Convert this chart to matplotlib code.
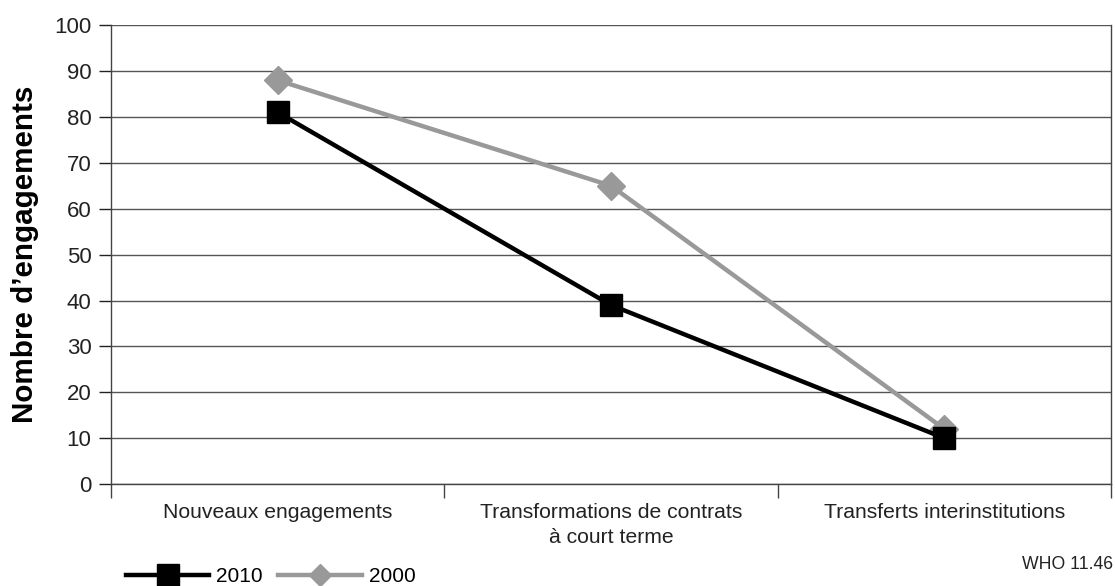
import numpy as np
import matplotlib.pyplot as plt

categories = ['Nouveaux engagements',
              'Transformations de contrats\nà court terme',
              'Transferts interinstitutions']
values_2010 = [81, 39, 10]
values_2000 = [88, 65, 12]
yticks = np.arange(0, 101, 10)

plt.rcParams['font.family'] = ['Liberation Sans', 'DejaVu Sans']

fig = plt.figure(figsize=(11.15, 5.86), dpi=100)
ax = fig.add_axes([0.0996, 0.174, 0.8968, 0.783])

x = np.arange(len(categories))
ax.plot(x, values_2000, color='#999999', lw=3.2, marker='D', ms=14,
        label='2000', zorder=3)
ax.plot(x, values_2010, color='black', lw=3.2, marker='s', ms=15.5,
        label='2010', zorder=4)

ax.set_xlim(-0.5, len(categories) - 0.5)
ax.set_ylim(0, 100)
ax.set_yticks(yticks)
ax.tick_params(axis='y', labelsize=16, length=9, width=1, pad=5,
               colors='#222222')
ax.set_xticks(x)
ax.set_xticklabels(categories, fontsize=15.2, linespacing=1.35)
ax.tick_params(axis='x', length=0, pad=14, colors='#222222')
ax.set_xticks(np.arange(len(categories) + 1) - 0.5, minor=True)
ax.tick_params(axis='x', which='minor', length=10, width=1, color='#444444')

ax.grid(axis='y', color='#555555', lw=1)
ax.set_axisbelow(True)
for s in ['left', 'bottom', 'right']:
    ax.spines[s].set_color('#444444')
    ax.spines[s].set_linewidth(1)
ax.spines['top'].set_visible(False)

ax.set_ylabel('Nombre d’engagements', fontsize=21.3, fontweight='bold',
              labelpad=11)

h, l = ax.get_legend_handles_labels()
leg = fig.legend(h[::-1], l[::-1], loc='center left',
                 bbox_to_anchor=(0.113, 0.0154), ncol=2, frameon=False,
                 fontsize=15, handlelength=4.0, columnspacing=0.75,
                 handletextpad=0.33, borderpad=0, borderaxespad=0)
leg.legend_handles[1].set_markersize(11)

fig.text(0.998, 0.036, 'WHO 11.46', ha='right', va='center', fontsize=12.7,
         color='#222222')

fig.savefig('out.png', dpi=100)
